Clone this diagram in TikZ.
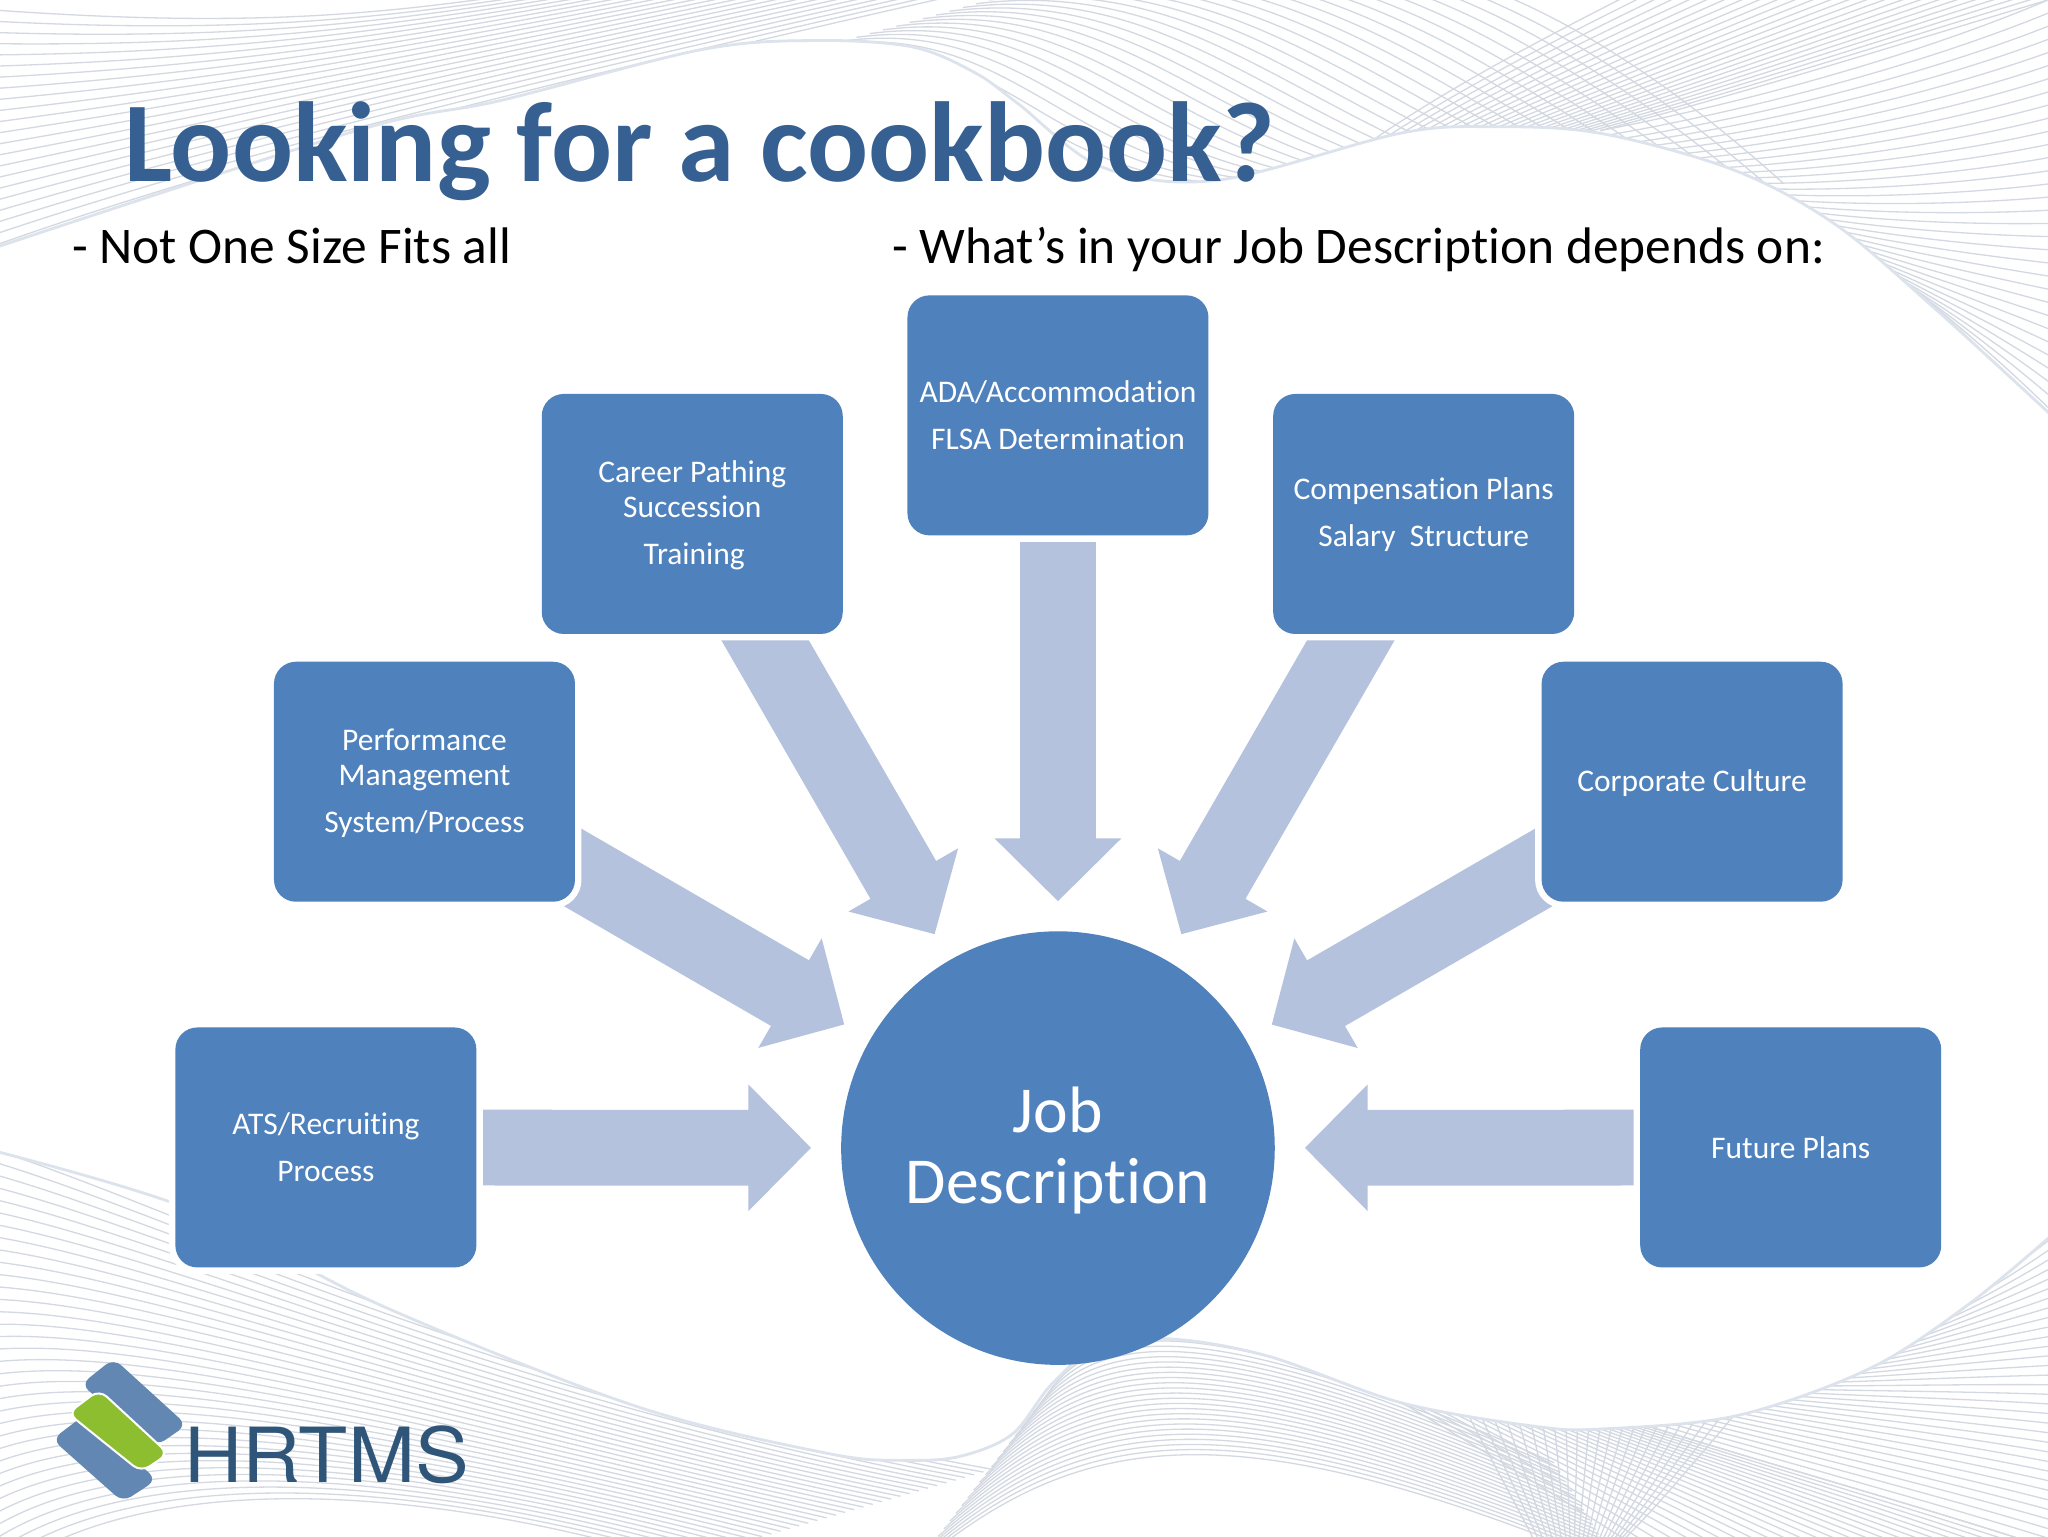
\documentclass[tikz,border=0pt]{standalone}
\usepackage{fontspec}
\setmainfont[RawFeature={-liga;-dlig;-clig}]{Carlito}
\newfontfamily\logofont{TeX Gyre Heros}
\usetikzlibrary{arrows.meta,calc,shapes.geometric}
\definecolor{boxblue}{HTML}{4F81BD}
\definecolor{arrowblue}{HTML}{B4C2DD}
\definecolor{titleblue}{HTML}{376092}
\definecolor{wavecol}{HTML}{D3D8E1}
\definecolor{waveedge}{HTML}{DCE3EC}
\definecolor{logoblue}{HTML}{6287B3}
\definecolor{logogreen}{HTML}{8CBE2F}
\definecolor{logotext}{HTML}{2F5579}
\pgfdeclarelayer{swooshlayer}
\pgfdeclarelayer{under}
\pgfsetlayers{swooshlayer,under,main}
\newcommand\swoosh[9]{%
  \foreach \i in {0,...,#1}{%
    \pgfmathsetmacro\t{\i/#1}%
    \draw[waveline] ($(#2)!\t!(#6)$) .. controls ($(#3)!\t!(#7)$) and ($(#4)!\t!(#8)$) .. ($(#5)!\t!(#9)$);
  }%
}
\tikzset{
  waveline/.style={draw=wavecol,line width=0.65pt},
  boxnode/.style={rounded corners=11pt,fill=boxblue,minimum width=150.5pt,minimum height=120pt,inner sep=0pt,outer sep=0pt,
    preaction={draw=white,line width=6.5pt}},
  boxlabel/.style={text=white,align=center,font=\fontsize{15.75}{17.6}\selectfont,inner sep=0pt},
  blockarrow/.style={draw=arrowblue,line width=37.9pt,shorten >=15pt,
    -{Triangle[width=61.4pt,length=31.4pt,fill=arrowblue]}},
  logoband/.style={rounded corners=5pt,fill=logoblue},
}
\begin{document}
\begin{tikzpicture}[x=0.65306pt,y=-0.65306pt]
\useasboundingbox (0,0) rectangle (1568,1176);
\begin{pgfonlayer}{swooshlayer}
\begin{scope}
\clip (0,0) rectangle (1568,1176);
\fill[white] (0,0) rectangle (1568,1176);
% top band
\swoosh{22}{0,195}{200,120}{450,60}{760,-10}{0,8}{200,22}{300,10}{420,-8}
\swoosh{28}{615,40}{760,20}{790,150}{970,140}{900,-40}{1080,-60}{1220,10}{1365,140}
\swoosh{24}{1050,108}{1105,70}{1170,35}{1255,-8}{1225,100}{1340,70}{1450,35}{1568,0}
\swoosh{32}{1225,100}{1305,85}{1450,50}{1568,0}{1445,205}{1490,240}{1530,280}{1568,322}
% bottom band
\swoosh{34}{-5,880}{150,930}{400,1060}{760,1125}{0,1205}{100,1130}{300,1130}{520,1195}
\swoosh{22}{800,1070}{840,1010}{920,1000}{1190,1120}{700,1200}{830,1090}{950,1080}{1240,1200}
\swoosh{22}{1180,1190}{1160,1150}{1140,1115}{1120,1075}{1242,1180}{1272,1150}{1305,1110}{1335,1075}
\swoosh{24}{1070,1072}{1135,1110}{1200,1150}{1265,1192}{1240,1085}{1350,1120}{1460,1150}{1568,1185}
\swoosh{32}{1240,1085}{1350,1120}{1460,1150}{1568,1185}{1440,1040}{1480,1010}{1530,980}{1568,950}
% white field
\path[fill=white,draw=waveedge,line width=1.4pt] plot[smooth,tension=0.55] coordinates {
  (-5,190) (273,100) (383,77) (537,38) (625,31) (699,36) (747,56) (779,79) (844,128) (932,138)
  (1072,102) (1143,97) (1225,102) (1327,130) (1404,171) (1480,235) (1575,322)}
  -- plot[smooth,tension=0.55] coordinates {
  (1575,942) (1508,998) (1431,1048) (1329,1084) (1227,1094) (1175,1092) (1073,1074) (970,1038)
  (894,1025) (840,1032) (805,1060) (775,1098) (735,1115) (693,1118) (635,1113) (488,1077) (293,1000) (146,926) (-5,881)}
  -- cycle;
\end{scope}
\end{pgfonlayer}

\node[text=titleblue,anchor=base west,inner sep=0pt,font=\fontsize{56.9}{60}\selectfont\bfseries] (title) at (95,139) {Looking for a cookbook?};
\node[anchor=base west,inner sep=0pt,font=\fontsize{25.7}{30}\selectfont] (subleft) at (55,202) {- Not One Size Fits all};
\node[anchor=base west,inner sep=0pt,font=\fontsize{25.7}{30}\selectfont] (subright) at (683,202) {- What’s in your Job Description depends on:};

\node[circle,fill=boxblue,minimum size=216.8pt,inner sep=0pt,outer sep=0pt] (jd) at (810,879) {};
\node[text=white,align=center,inner sep=0pt,font=\fontsize{32.8}{35.5}\selectfont] (jdtext) at (810,881) {Job\\Description};

\node[boxnode] (ada) at (810,318) {};
\node[boxnode] (career) at (530,393.5) {};
\node[boxnode] (comp) at (1090,393.5) {};
\node[boxnode] (perf) at (325,598.5) {};
\node[boxnode] (corp) at (1295.5,598.5) {};
\node[boxnode] (ats) at (249.5,878.5) {};
\node[boxnode] (future) at (1371,878.5) {};

\node[boxlabel] (adat) at (810,318) {ADA/Accommodation\\[6pt]FLSA Determination};
\node[boxlabel] (careert) at (530,394.5) {Career Pathing\\Succession\\[6pt]\hspace{2pt}Training};
\node[boxlabel] (compt) at (1090,394) {Compensation Plans\\[6pt]Salary\ \ Structure};
\node[boxlabel] (perft) at (325,599.5) {Performance\\Management\\[6pt]System/Process};
\node[boxlabel] (corpt) at (1295.5,599.5) {Corporate Culture};
\node[boxlabel] (atst) at (249.5,878.5) {ATS/Recruiting\\[6pt]Process};
\node[boxlabel] (futuret) at (1371,879) {Future Plans};

\begin{pgfonlayer}{under}
\draw[blockarrow] (ada.center) -- (jd);
\draw[blockarrow] (career.center) -- (jd);
\draw[blockarrow] (comp.center) -- (jd);
\draw[blockarrow] (perf.center) -- (jd);
\draw[blockarrow] (corp.center) -- (jd);
\draw[blockarrow] (ats.center) -- (jd);
\draw[blockarrow] (future.center) -- (jd);
\end{pgfonlayer}

% logo
\fill[logoband] (62,1060) -- (87,1040) -- (143,1091) -- (120,1107) -- cycle;
\fill[logoband] (40,1102) -- (65,1083) -- (120,1133) -- (94,1150) -- cycle;
\path[fill=logogreen,draw=white,line width=1pt,rounded corners=5pt] (52,1082) -- (76,1064) -- (129,1113) -- (108,1127) -- cycle;
\node[text=logotext,anchor=base west,inner sep=0pt,font=\logofont\fontsize{38}{40}\selectfont] (logotext) at (141,1135) {\scalebox{1.06}[1]{HRTMS}};
\end{tikzpicture}
\end{document}
